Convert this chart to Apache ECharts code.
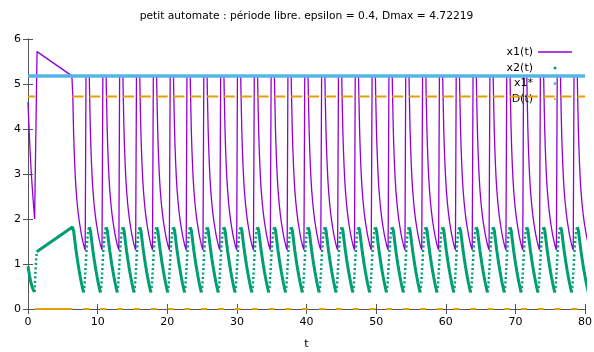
<!DOCTYPE html>
<html>
<head>
<meta charset="utf-8">
<script src="https://cdn.jsdelivr.net/npm/echarts@6/dist/echarts.min.js"></script>
<style>
  html, body { margin: 0; padding: 0; background: #fff; }
  #chart { width: 594px; height: 352px; }
</style>
</head>
<body>
<div id="chart"></div>
<script>
// Trace of the small hybrid automaton in its free-period regime.
const titleText = 'petit automate : période libre. epsilon = 0.4, Dmax = 4.72219';
const Dmax = 4.72219;
const x1Star = 5.18;
const period = 2.417;

// instants where x1 jumps back up to x1*
const resetTimes = [8.33, 10.75, 13.16, 15.58, 18.00, 20.42, 22.83, 25.25, 27.67, 30.08,
  32.50, 34.92, 37.33, 39.75, 42.17, 44.59, 47.00, 49.42, 51.84, 54.25,
  56.67, 59.09, 61.50, 63.92, 66.34, 68.76, 71.17, 73.59, 76.01, 78.42];

// start-up transient, before the periodic regime settles
const x1Start = [[0, 4.6], [0.1, 4.2], [0.2, 3.85], [0.35, 3.35], [0.5, 2.95], [0.7, 2.5],
  [0.85, 2.2], [0.95, 2.0], [1.3, 5.72], [6.3, 5.18]];
const x2StartDecay = [[0, 0.95], [0.2, 0.76], [0.4, 0.6], [0.6, 0.49], [0.8, 0.41], [0.95, 0.38]];
const x2StartRise = [[0.95, 0.38], [1.05, 0.75], [1.15, 1.05], [1.25, 1.27]];
const x2StartRamp = [[1.25, 1.27], [6.38, 1.82]];
const dStartHigh = [0, 1.0];
const dStartLow = [1.0, 6.38];

// one period of the regime, times measured from a reset
const x1Cycle = [[0, 5.18], [0.47, 5.18], [0.52, 4.75], [0.57, 4.38], [0.63, 3.96], [0.7, 3.6],
  [0.8, 3.2], [0.9, 2.88], [1.0, 2.63], [1.15, 2.35], [1.3, 2.13], [1.44, 1.96], [1.6, 1.8],
  [1.75, 1.66], [1.92, 1.53], [2.1, 1.41], [2.3, 1.31]];
const x2CycleRise = [[-0.36, 0.37], [-0.28, 0.42], [-0.2, 0.55], [-0.12, 0.75], [-0.04, 0.98],
  [0.04, 1.2], [0.12, 1.4], [0.2, 1.56], [0.28, 1.68], [0.36, 1.77], [0.44, 1.81], [0.48, 1.82]];
const x2CycleDecay = [[0.48, 1.82], [0.56, 1.8], [0.64, 1.74], [0.72, 1.64], [0.85, 1.47],
  [1.0, 1.29], [1.15, 1.13], [1.3, 0.98], [1.45, 0.84], [1.6, 0.71], [1.75, 0.59], [1.9, 0.48],
  [2.0, 0.41], [2.057, 0.37]];
// D(t) is switched off on this window around each reset, and sits at Dmax otherwise
const dLowWindow = [-0.36, 0.47];

const FONT = 'DejaVu Sans';
const tMax = 80;

function shift(points, t0) { return points.map(p => [+(p[0] + t0).toFixed(3), p[1]]); }
const BREAK = t => [t, null];

// x1(t)
const x1Data = x1Start.slice();
const firstBase = resetTimes[0] - period;
shift(x1Cycle, firstBase).forEach(p => { if (p[0] > x1Start[x1Start.length - 1][0]) x1Data.push(p); });
resetTimes.forEach(r => shift(x1Cycle, r).forEach(p => x1Data.push(p)));

// x2(t): slow stretches drawn solid, fast rises drawn dotted
const x2Slow = x2StartDecay.slice();
x2Slow.push(BREAK(1.0));
x2StartRamp.forEach(p => x2Slow.push(p));
shift(x2CycleDecay, firstBase).forEach(p => x2Slow.push(p));
resetTimes.forEach(r => {
  x2Slow.push(BREAK(r));
  shift(x2CycleDecay, r).forEach(p => x2Slow.push(p));
});
const x2Fast = x2StartRise.slice();
resetTimes.forEach(r => {
  x2Fast.push(BREAK(r - 0.5));
  shift(x2CycleRise, r).forEach(p => x2Fast.push(p));
});

// D(t)
const dData = [[dStartHigh[0], Dmax], [dStartHigh[1], Dmax], BREAK(dStartHigh[1]),
  [dStartLow[0], 0], [dStartLow[1], 0], BREAK(dStartLow[1])];
let highFrom = dStartLow[1];
resetTimes.forEach(r => {
  const a = r + dLowWindow[0], b = r + dLowWindow[1];
  dData.push([+highFrom.toFixed(3), Dmax], [+a.toFixed(3), Dmax], BREAK(a));
  dData.push([+a.toFixed(3), 0], [+b.toFixed(3), 0], BREAK(b));
  highFrom = b;
});
dData.push([+highFrom.toFixed(3), Dmax], [tMax, Dmax]);

const x1StarData = [[0, x1Star], [tMax, x1Star]];

const axisGray = '#555';
const tick = { show: true, inside: true, length: 5, lineStyle: { color: axisGray, width: 1 } };
const label = { color: '#000', fontFamily: FONT, fontSize: 11 };

// key entries: text right-aligned, sample on its right (line) or a dot centred under the line sample
function legendFor(name, top, icon, color, w, h, right, padRight) {
  return {
    orient: 'vertical', align: 'right', right: right, top: top, padding: 0,
    itemWidth: w, itemHeight: h, selectedMode: false,
    textStyle: { color: '#000', fontFamily: FONT, fontSize: 11, lineHeight: 14, padding: [0, padRight, 0, 0] },
    data: [{ name: name, icon: icon, itemStyle: { color: color, borderWidth: 0 } }]
  };
}

const chart = echarts.init(document.getElementById('chart'), null, { renderer: 'canvas' });
chart.setOption({
  animation: false,
  backgroundColor: '#fff',
  grid: { left: 28, right: 9, top: 39, bottom: 43, containLabel: false, outerBoundsMode: 'none' },
  graphic: [{
    type: 'text', x: 306.5, y: 16.5,
    style: { text: titleText, fill: '#000', font: '10.7px "' + FONT + '"', align: 'center', verticalAlign: 'middle' }
  }],
  legend: [
    legendFor('x1(t)', 45, 'rect', '#9400d3', 34, 1.5, 22, 0),
    legendFor('x2(t)', 61, 'circle', '#009e73', 3, 3, 37.5, 15.5),
    legendFor('x1*', 76.5, 'circle', '#56b4e9', 3, 3, 37.5, 15.5),
    legendFor('D(t)', 92, 'circle', '#e69f00', 2, 2, 38, 16)
  ],
  xAxis: [{
    type: 'value', min: 0, max: tMax, interval: 10, position: 'bottom',
    name: 't', nameLocation: 'middle', nameGap: 30,
    nameTextStyle: { color: '#000', fontFamily: FONT, fontSize: 11 },
    axisLine: { show: true, lineStyle: { color: axisGray, width: 1 } },
    axisTick: tick, axisLabel: Object.assign({ margin: 8 }, label), splitLine: { show: false }
  }, {
    type: 'value', min: 0, max: tMax, interval: 10, position: 'top',
    axisLine: { show: true, lineStyle: { color: axisGray, width: 1 } },
    axisTick: tick, axisLabel: { show: false }, splitLine: { show: false }
  }],
  yAxis: [{
    type: 'value', min: 0, max: 6, interval: 1, position: 'left',
    axisLine: { show: true, lineStyle: { color: axisGray, width: 1 } },
    axisTick: tick, axisLabel: Object.assign({ margin: 7 }, label), splitLine: { show: false }
  }, {
    type: 'value', min: 0, max: 6, interval: 1, position: 'right',
    axisLine: { show: true, lineStyle: { color: axisGray, width: 1 } },
    axisTick: tick, axisLabel: { show: false }, splitLine: { show: false }
  }],
  series: [
    {
      name: 'x1(t)', type: 'line', data: x1Data, showSymbol: false, clip: true,
      color: '#9400d3', lineStyle: { color: '#9400d3', width: 1.3 }, z: 2
    },
    {
      name: 'x2(t)', type: 'line', data: x2Slow, showSymbol: false, clip: true, connectNulls: false,
      color: '#009e73', lineStyle: { color: '#009e73', width: 3 }, z: 3
    },
    {
      name: 'x2(t)', type: 'line', data: x2Fast, showSymbol: false, clip: true, connectNulls: false,
      color: '#009e73', lineStyle: { color: '#009e73', width: 2.5, type: [2, 2.5] }, z: 3
    },
    {
      name: 'x1*', type: 'line', data: x1StarData, showSymbol: false, clip: true,
      color: '#56b4e9', lineStyle: { color: '#56b4e9', width: 3.5 }, z: 4
    },
    {
      name: 'D(t)', type: 'line', data: dData, showSymbol: false, clip: true, connectNulls: false,
      color: '#e69f00', lineStyle: { color: '#e69f00', width: 1.8 }, z: 5
    }
  ]
});
</script>
</body>
</html>
